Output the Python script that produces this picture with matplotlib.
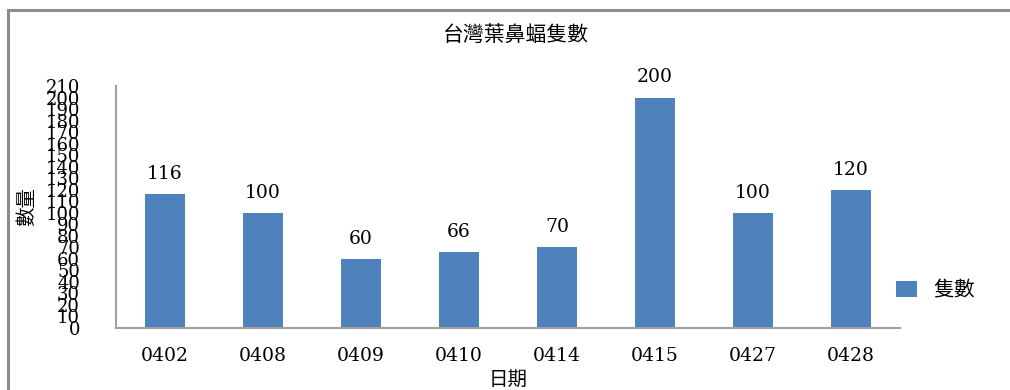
import matplotlib
matplotlib.use("Agg")
import matplotlib.pyplot as plt
from matplotlib.patches import Rectangle

categories = ["0402", "0408", "0409", "0410", "0414", "0415", "0427", "0428"]
counts = [116, 100, 60, 66, 70, 200, 100, 120]
yticks = list(range(0, 211, 10))
title = "台灣葉鼻蝠隻數"
xlabel = "日期"
ylabel = "數量"
series_name = "隻數"

cjk = ["Noto Sans CJK TC", "DejaVu Sans"]
num_font = ["DejaVu Serif"]
bar_color = "#4F81BD"

fig = plt.figure(figsize=(10.1, 3.9), dpi=100)
# outer chart frame
fig.patches.append(Rectangle((8 / 1010, -0.05), 1.2, 1 - 10 / 390 + 0.05,
                             transform=fig.transFigure, fill=False,
                             edgecolor="#8C8C8C", linewidth=2.2))

ax = fig.add_axes([116 / 1010, 1 - 328 / 390, 784 / 1010, 242 / 390])
x = list(range(len(categories)))
bars = ax.bar(x, counts, width=0.41, color=bar_color, label=series_name)
ax.set_xlim(-0.5, len(categories) - 0.5)
ax.set_ylim(0, 210)
ax.set_yticks(yticks)
ax.set_yticklabels([str(t) for t in yticks], fontfamily=num_font, fontsize=13)
ax.set_xticks(x)
ax.set_xticklabels(categories, fontfamily=num_font, fontsize=13.5)
ax.tick_params(axis="y", length=0, pad=26)
ax.tick_params(axis="x", length=0, pad=14)
for s in ["top", "right"]:
    ax.spines[s].set_visible(False)
for s in ["left", "bottom"]:
    ax.spines[s].set_color("#A0A0A0")
    ax.spines[s].set_linewidth(1.5)

for xi, v in zip(x, counts):
    ax.annotate(str(v), (xi, v), xytext=(0, 8), textcoords="offset points",
                ha="center", va="bottom", fontfamily=num_font, fontsize=13.5)

fig.text(516 / 1010, 1 - 35 / 390, title, ha="center", va="center",
         fontfamily=cjk, fontsize=15)
fig.text(508 / 1010, 1 - 379 / 390, xlabel, ha="center", va="center",
         fontfamily=cjk, fontsize=14)
fig.text(27 / 1010, 1 - 206 / 390, ylabel, ha="center", va="center",
         rotation=90, fontfamily=cjk, fontsize=14)

leg = fig.legend(handles=[bars], labels=[series_name], loc="center left",
                 bbox_to_anchor=(877 / 1010, 1 - 290 / 390), frameon=False,
                 prop={"family": cjk, "size": 15}, handlelength=1.0,
                 handleheight=0.8, handletextpad=0.8)

fig.savefig("out.png", dpi=100)
